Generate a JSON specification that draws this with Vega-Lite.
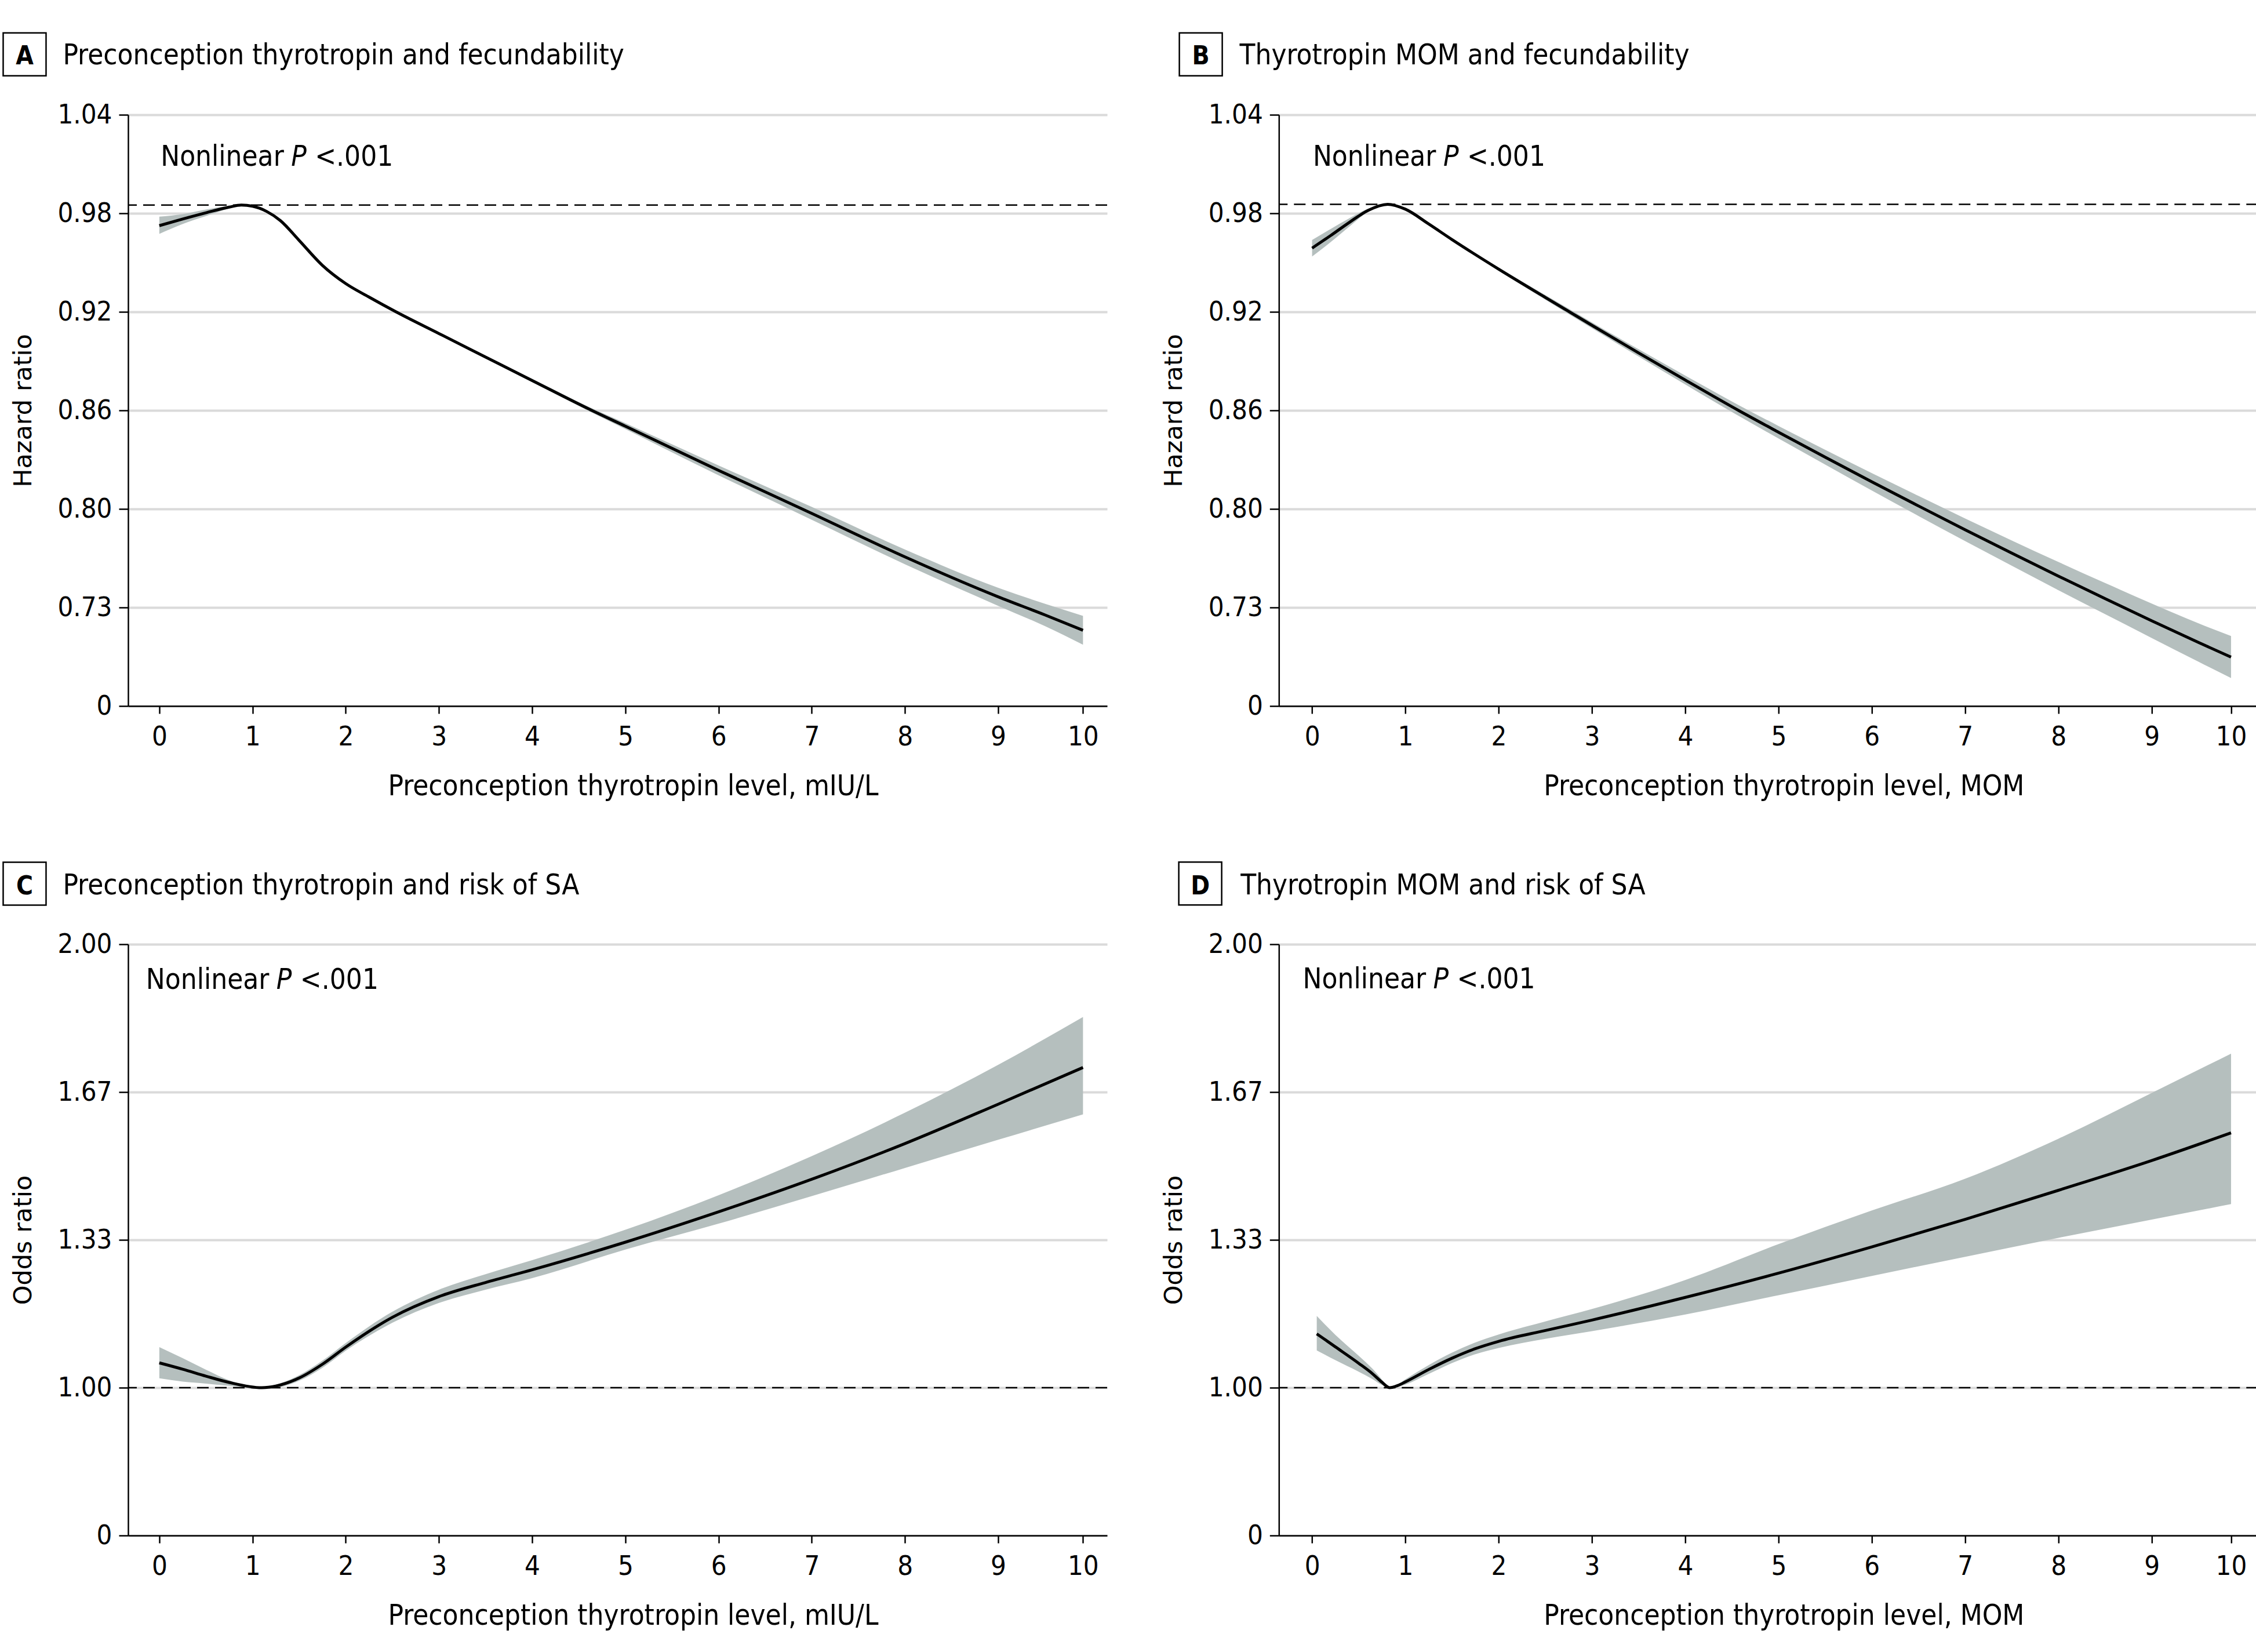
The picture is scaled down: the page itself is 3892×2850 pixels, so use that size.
{
 "$schema": "https://vega.github.io/schema/vega-lite/v6.json",
 "background": "white",
 "padding": {"left": 0, "top": 51, "right": 0, "bottom": 24},
 "bounds": "flush",
 "columns": 2,
 "spacing": {"row": 411, "column": 296.3},
 "datasets": {
  "A": [
   {"x": 0, "est": 0.9725, "lo": 0.9675, "hi": 0.9780},
   {"x": 0.25, "est": 0.9765, "lo": 0.9735, "hi": 0.9795},
   {"x": 0.5, "est": 0.9803, "lo": 0.9783, "hi": 0.9823},
   {"x": 0.75, "est": 0.9838, "lo": 0.9830, "hi": 0.9845},
   {"x": 0.88, "est": 0.9850, "lo": 0.9849, "hi": 0.9851},
   {"x": 1.0, "est": 0.9843, "lo": 0.9840, "hi": 0.9846},
   {"x": 1.15, "est": 0.9812, "lo": 0.9808, "hi": 0.9816},
   {"x": 1.3, "est": 0.9755, "lo": 0.9750, "hi": 0.9760},
   {"x": 1.5, "est": 0.9635, "lo": 0.9629, "hi": 0.9641},
   {"x": 1.75, "est": 0.9483, "lo": 0.9475, "hi": 0.9491},
   {"x": 2.0, "est": 0.9372, "lo": 0.9363, "hi": 0.9381},
   {"x": 2.25, "est": 0.9290, "lo": 0.9282, "hi": 0.9298},
   {"x": 2.54, "est": 0.9200, "lo": 0.9193, "hi": 0.9207},
   {"x": 3.0, "est": 0.9068, "lo": 0.9061, "hi": 0.9075},
   {"x": 3.5, "est": 0.8925, "lo": 0.8917, "hi": 0.8933},
   {"x": 4.0, "est": 0.8782, "lo": 0.8772, "hi": 0.8792},
   {"x": 4.64, "est": 0.8600, "lo": 0.8587, "hi": 0.8613},
   {"x": 5.0, "est": 0.8504, "lo": 0.8486, "hi": 0.8522},
   {"x": 6.0, "est": 0.8235, "lo": 0.8205, "hi": 0.8265},
   {"x": 7.0, "est": 0.7973, "lo": 0.7934, "hi": 0.8012},
   {"x": 8.0, "est": 0.7708, "lo": 0.7663, "hi": 0.7753},
   {"x": 9.0, "est": 0.7465, "lo": 0.7410, "hi": 0.7520},
   {"x": 9.5, "est": 0.7355, "lo": 0.7287, "hi": 0.7423},
   {"x": 9.91, "est": 0.7261, "lo": 0.7173, "hi": 0.7349}
  ],
  "B": [
   {"x": 0, "est": 0.9588, "lo": 0.9537, "hi": 0.9638},
   {"x": 0.2, "est": 0.9665, "lo": 0.9625, "hi": 0.9705},
   {"x": 0.4, "est": 0.9745, "lo": 0.9720, "hi": 0.9770},
   {"x": 0.6, "est": 0.9818, "lo": 0.9808, "hi": 0.9828},
   {"x": 0.81, "est": 0.9855, "lo": 0.9854, "hi": 0.9856},
   {"x": 1.0, "est": 0.9825, "lo": 0.9821, "hi": 0.9829},
   {"x": 1.25, "est": 0.9735, "lo": 0.9730, "hi": 0.9740},
   {"x": 1.5, "est": 0.9640, "lo": 0.9634, "hi": 0.9646},
   {"x": 2.0, "est": 0.9460, "lo": 0.9450, "hi": 0.9470},
   {"x": 2.5, "est": 0.9288, "lo": 0.9274, "hi": 0.9302},
   {"x": 3.0, "est": 0.9118, "lo": 0.9100, "hi": 0.9136},
   {"x": 3.5, "est": 0.8950, "lo": 0.8928, "hi": 0.8972},
   {"x": 4.0, "est": 0.8785, "lo": 0.8758, "hi": 0.8812},
   {"x": 4.57, "est": 0.8600, "lo": 0.8567, "hi": 0.8633},
   {"x": 5.0, "est": 0.8467, "lo": 0.8429, "hi": 0.8505},
   {"x": 5.5, "est": 0.8315, "lo": 0.8270, "hi": 0.8360},
   {"x": 6.0, "est": 0.8165, "lo": 0.8112, "hi": 0.8218},
   {"x": 6.5, "est": 0.8018, "lo": 0.7957, "hi": 0.8079},
   {"x": 7.0, "est": 0.7873, "lo": 0.7804, "hi": 0.7942},
   {"x": 7.5, "est": 0.7731, "lo": 0.7654, "hi": 0.7808},
   {"x": 8.0, "est": 0.7591, "lo": 0.7505, "hi": 0.7677},
   {"x": 8.5, "est": 0.7454, "lo": 0.7359, "hi": 0.7549},
   {"x": 9.0, "est": 0.7319, "lo": 0.7214, "hi": 0.7424},
   {"x": 9.5, "est": 0.7187, "lo": 0.7070, "hi": 0.7304},
   {"x": 9.85, "est": 0.7098, "lo": 0.6970, "hi": 0.7226}
  ],
  "C": [
   {"x": 0, "est": 1.0560, "lo": 1.0212, "hi": 1.0915},
   {"x": 0.25, "est": 1.0417, "lo": 1.0137, "hi": 1.0666},
   {"x": 0.5, "est": 1.0261, "lo": 1.0093, "hi": 1.0405},
   {"x": 0.75, "est": 1.0118, "lo": 1.0044, "hi": 1.0168},
   {"x": 1.1, "est": 1.0, "lo": 1.0, "hi": 1.0},
   {"x": 1.25, "est": 1.0037, "lo": 1.0006, "hi": 1.0068},
   {"x": 1.5, "est": 1.0218, "lo": 1.0156, "hi": 1.0280},
   {"x": 1.75, "est": 1.0529, "lo": 1.0448, "hi": 1.0610},
   {"x": 2.0, "est": 1.0915, "lo": 1.0834, "hi": 1.1008},
   {"x": 2.5, "est": 1.1587, "lo": 1.1463, "hi": 1.1712},
   {"x": 3.0, "est": 1.2054, "lo": 1.1911, "hi": 1.2210},
   {"x": 3.5, "est": 1.2372, "lo": 1.2210, "hi": 1.2558},
   {"x": 4.0, "est": 1.2658, "lo": 1.2471, "hi": 1.2876},
   {"x": 5.0, "est": 1.3281, "lo": 1.3113, "hi": 1.3561},
   {"x": 6.0, "est": 1.3965, "lo": 1.3698, "hi": 1.4341},
   {"x": 7.0, "est": 1.4700, "lo": 1.4320, "hi": 1.5221},
   {"x": 8.0, "est": 1.5505, "lo": 1.4955, "hi": 1.6201},
   {"x": 9.0, "est": 1.6393, "lo": 1.5590, "hi": 1.7281},
   {"x": 9.91, "est": 1.7221, "lo": 1.6163, "hi": 1.8360}
  ],
  "D": [
   {"x": 0.05, "est": 1.1214, "lo": 1.0840, "hi": 1.1619},
   {"x": 0.25, "est": 1.0920, "lo": 1.0620, "hi": 1.1190},
   {"x": 0.5, "est": 1.0550, "lo": 1.0360, "hi": 1.0720},
   {"x": 0.65, "est": 1.0310, "lo": 1.0190, "hi": 1.0420},
   {"x": 0.75, "est": 1.0120, "lo": 1.0060, "hi": 1.0180},
   {"x": 0.83, "est": 1.0, "lo": 1.0, "hi": 1.0},
   {"x": 0.92, "est": 1.0050, "lo": 1.0020, "hi": 1.0080},
   {"x": 1.0, "est": 1.0130, "lo": 1.0070, "hi": 1.0190},
   {"x": 1.25, "est": 1.0410, "lo": 1.0310, "hi": 1.0510},
   {"x": 1.5, "est": 1.0665, "lo": 1.0555, "hi": 1.0790},
   {"x": 1.75, "est": 1.0880, "lo": 1.0755, "hi": 1.1020},
   {"x": 2.0, "est": 1.1045, "lo": 1.0895, "hi": 1.1200},
   {"x": 2.5, "est": 1.1289, "lo": 1.1102, "hi": 1.1494},
   {"x": 3.0, "est": 1.1525, "lo": 1.1276, "hi": 1.1774},
   {"x": 4.0, "est": 1.2036, "lo": 1.1650, "hi": 1.2428},
   {"x": 5.0, "est": 1.2583, "lo": 1.2085, "hi": 1.3237},
   {"x": 6.0, "est": 1.3175, "lo": 1.2521, "hi": 1.3996},
   {"x": 7.0, "est": 1.3797, "lo": 1.2951, "hi": 1.4712},
   {"x": 8.0, "est": 1.4451, "lo": 1.3380, "hi": 1.5615},
   {"x": 9.0, "est": 1.5123, "lo": 1.3791, "hi": 1.6648},
   {"x": 9.85, "est": 1.5746, "lo": 1.4140, "hi": 1.7532}
  ]
 },
 "config": {
  "view": {"stroke": null},
  "axisX": {
   "domainColor": "black", "domainWidth": 2.5, "tickColor": "black", "tickWidth": 2.5, "tickSize": 13,
   "labelFont": "DejaVu Sans Condensed, Liberation Sans Narrow, sans-serif", "labelFontSize": 47, "labelColor": "black", "labelPadding": 17,
   "labelFlush": false, "labelOverlap": false, "labelBound": false, "grid": false,
   "titleFont": "DejaVu Sans Condensed, Liberation Sans Narrow, sans-serif", "titleFontSize": 49, "titleFontWeight": "normal", "titleColor": "black",
   "titleX": 871, "titleY": 153, "titleBaseline": "alphabetic", "titleAlign": "center"
  },
  "axisY": {
   "domainColor": "black", "domainWidth": 2.5, "tickColor": "black", "tickWidth": 2.5, "tickSize": 16,
   "labelFont": "DejaVu Sans Condensed, Liberation Sans Narrow, sans-serif", "labelFontSize": 47, "labelColor": "black", "labelPadding": 12,
   "labelFlush": false, "labelOverlap": false, "labelBound": false,
   "grid": true, "gridColor": "#dadada", "gridWidth": 4,
   "titleFont": "DejaVu Sans, sans-serif", "titleFontSize": 43, "titleFontWeight": "normal", "titleColor": "black",
   "titleX": -168, "titleY": 510, "titleAngle": 270, "titleBaseline": "alphabetic", "titleAlign": "center"
  },
  "text": {"font": "DejaVu Sans Condensed, Liberation Sans Narrow, sans-serif", "color": "black"}
 },
 "concat": [
    {
     "width": 1689, "height": 1020,
     "data": {"name": "A"},
     "layer": [
      {"mark": {"type": "area", "interpolate": "monotone", "color": "#b5bfbe", "opacity": 1},
       "encoding": {
        "x": {"field": "x", "type": "quantitative", "scale": {"domain": [-0.335, 10.169], "nice": false, "zero": false},
              "axis": {"values": [0,1,2,3,4,5,6,7,8,9,9.91], "labelExpr": "datum.value > 9.5 ? '10' : format(datum.value, 'd')", "title": "Preconception thyrotropin level, mIU/L"}},
        "y": {"field": "lo", "type": "quantitative", "scale": {"domain": [0.68, 1.04], "nice": false, "zero": false},
              "axis": {"values": [0.68,0.74,0.80,0.86,0.92,0.98,1.04], "labelExpr": "datum.value < 0.7 ? '0' : datum.value < 0.75 ? '0.73' : format(datum.value, '.2f')", "title": "Hazard ratio"}},
        "y2": {"field": "hi"}
       }},
      {"mark": {"type": "line", "interpolate": "monotone", "color": "black", "strokeWidth": 5},
       "encoding": {"x": {"field": "x", "type": "quantitative"}, "y": {"field": "est", "type": "quantitative"}}},
      {"data": {"values": [{}]}, "mark": {"type": "rule", "color": "black", "strokeWidth": 2.5, "strokeDash": [20, 11]},
       "encoding": {"y": {"datum": 0.985}}},
      {"data": {"values": [{}]}, "mark": {"type": "point", "shape": "square", "size": 5476, "filled": false, "stroke": "black", "strokeWidth": 2.5, "opacity": 1},
       "encoding": {"x": {"datum": -1.4453}, "y": {"datum": 1.0768}}},
      {"data": {"values": [{}]}, "mark": {"type": "text", "text": "A", "fontWeight": "bold", "fontSize": 44, "align": "center", "baseline": "alphabetic"},
       "encoding": {"x": {"datum": -1.4453}, "y": {"datum": 1.0706}}},
      {"data": {"values": [{}]}, "mark": {"type": "text", "text": "Preconception thyrotropin and fecundability", "fontSize": 49, "align": "left", "baseline": "alphabetic"},
       "encoding": {"x": {"datum": -1.0354}, "y": {"datum": 1.0706}}},
      {"data": {"values": [{}]}, "mark": {"type": "text", "text": "Nonlinear", "fontSize": 49, "align": "left", "baseline": "alphabetic"},
       "encoding": {"x": {"datum": 0.0143}, "y": {"datum": 1.0088}}},
      {"data": {"values": [{}]}, "mark": {"type": "text", "text": "P", "fontStyle": "italic", "fontSize": 49, "align": "left", "baseline": "alphabetic", "dx": 225},
       "encoding": {"x": {"datum": 0.0143}, "y": {"datum": 1.0088}}},
      {"data": {"values": [{}]}, "mark": {"type": "text", "text": "<.001", "fontSize": 49, "align": "left", "baseline": "alphabetic", "dx": 266},
       "encoding": {"x": {"datum": 0.0143}, "y": {"datum": 1.0088}}}
     ]
    },
    {
     "width": 1689, "height": 1020,
     "data": {"name": "B"},
     "layer": [
      {"mark": {"type": "area", "interpolate": "monotone", "color": "#b5bfbe", "opacity": 1},
       "encoding": {
        "x": {"field": "x", "type": "quantitative", "scale": {"domain": [-0.356, 10.138], "nice": false, "zero": false},
              "axis": {"values": [0,1,2,3,4,5,6,7,8,9,9.85], "labelExpr": "datum.value > 9.5 ? '10' : format(datum.value, 'd')", "title": "Preconception thyrotropin level, MOM"}},
        "y": {"field": "lo", "type": "quantitative", "scale": {"domain": [0.68, 1.04], "nice": false, "zero": false},
              "axis": {"values": [0.68,0.74,0.80,0.86,0.92,0.98,1.04], "labelExpr": "datum.value < 0.7 ? '0' : datum.value < 0.75 ? '0.73' : format(datum.value, '.2f')", "title": "Hazard ratio"}},
        "y2": {"field": "hi"}
       }},
      {"mark": {"type": "line", "interpolate": "monotone", "color": "black", "strokeWidth": 5},
       "encoding": {"x": {"field": "x", "type": "quantitative"}, "y": {"field": "est", "type": "quantitative"}}},
      {"data": {"values": [{}]}, "mark": {"type": "rule", "color": "black", "strokeWidth": 2.5, "strokeDash": [20, 11]},
       "encoding": {"y": {"datum": 0.9855}}},
      {"data": {"values": [{}]}, "mark": {"type": "point", "shape": "square", "size": 5476, "filled": false, "stroke": "black", "strokeWidth": 2.5, "opacity": 1},
       "encoding": {"x": {"datum": -1.1929}, "y": {"datum": 1.0768}}},
      {"data": {"values": [{}]}, "mark": {"type": "text", "text": "B", "fontWeight": "bold", "fontSize": 44, "align": "center", "baseline": "alphabetic"},
       "encoding": {"x": {"datum": -1.1929}, "y": {"datum": 1.0706}}},
      {"data": {"values": [{}]}, "mark": {"type": "text", "text": "Thyrotropin MOM and fecundability", "fontSize": 49, "align": "left", "baseline": "alphabetic"},
       "encoding": {"x": {"datum": -0.7766}, "y": {"datum": 1.0706}}},
      {"data": {"values": [{}]}, "mark": {"type": "text", "text": "Nonlinear", "fontSize": 49, "align": "left", "baseline": "alphabetic"},
       "encoding": {"x": {"datum": 0.008}, "y": {"datum": 1.0088}}},
      {"data": {"values": [{}]}, "mark": {"type": "text", "text": "P", "fontStyle": "italic", "fontSize": 49, "align": "left", "baseline": "alphabetic", "dx": 225},
       "encoding": {"x": {"datum": 0.008}, "y": {"datum": 1.0088}}},
      {"data": {"values": [{}]}, "mark": {"type": "text", "text": "<.001", "fontSize": 49, "align": "left", "baseline": "alphabetic", "dx": 266},
       "encoding": {"x": {"datum": 0.008}, "y": {"datum": 1.0088}}}
     ]
    },
    {
     "width": 1689, "height": 1020,
     "data": {"name": "C"},
     "layer": [
      {"mark": {"type": "area", "interpolate": "monotone", "color": "#b5bfbe", "opacity": 1},
       "encoding": {
        "x": {"field": "x", "type": "quantitative", "scale": {"domain": [-0.335, 10.169], "nice": false, "zero": false},
              "axis": {"values": [0,1,2,3,4,5,6,7,8,9,9.91], "labelExpr": "datum.value > 9.5 ? '10' : format(datum.value, 'd')", "title": "Preconception thyrotropin level, mIU/L"}},
        "y": {"field": "lo", "type": "quantitative", "scale": {"domain": [0.6666667, 2.0], "nice": false, "zero": false},
              "axis": {"values": [0.6666667, 1.0, 1.3333333, 1.6666667, 2.0], "labelExpr": "datum.value < 0.8 ? '0' : format(datum.value, '.2f')", "title": "Odds ratio"}},
        "y2": {"field": "hi"}
       }},
      {"mark": {"type": "line", "interpolate": "monotone", "color": "black", "strokeWidth": 5},
       "encoding": {"x": {"field": "x", "type": "quantitative"}, "y": {"field": "est", "type": "quantitative"}}},
      {"data": {"values": [{}]}, "mark": {"type": "rule", "color": "black", "strokeWidth": 2.5, "strokeDash": [20, 11]},
       "encoding": {"y": {"datum": 1.0}}},
      {"data": {"values": [{}]}, "mark": {"type": "point", "shape": "square", "size": 5476, "filled": false, "stroke": "black", "strokeWidth": 2.5, "opacity": 1},
       "encoding": {"x": {"datum": -1.4453}, "y": {"datum": 2.1367}}},
      {"data": {"values": [{}]}, "mark": {"type": "text", "text": "C", "fontWeight": "bold", "fontSize": 44, "align": "center", "baseline": "alphabetic"},
       "encoding": {"x": {"datum": -1.4453}, "y": {"datum": 2.1128}}},
      {"data": {"values": [{}]}, "mark": {"type": "text", "text": "Preconception thyrotropin and risk of SA", "fontSize": 49, "align": "left", "baseline": "alphabetic"},
       "encoding": {"x": {"datum": -1.0354}, "y": {"datum": 2.1128}}},
      {"data": {"values": [{}]}, "mark": {"type": "text", "text": "Nonlinear", "fontSize": 49, "align": "left", "baseline": "alphabetic"},
       "encoding": {"x": {"datum": -0.143}, "y": {"datum": 1.8996}}},
      {"data": {"values": [{}]}, "mark": {"type": "text", "text": "P", "fontStyle": "italic", "fontSize": 49, "align": "left", "baseline": "alphabetic", "dx": 225},
       "encoding": {"x": {"datum": -0.143}, "y": {"datum": 1.8996}}},
      {"data": {"values": [{}]}, "mark": {"type": "text", "text": "<.001", "fontSize": 49, "align": "left", "baseline": "alphabetic", "dx": 266},
       "encoding": {"x": {"datum": -0.143}, "y": {"datum": 1.8996}}}
     ]
    },
    {
     "width": 1689, "height": 1020,
     "data": {"name": "D"},
     "layer": [
      {"mark": {"type": "area", "interpolate": "monotone", "color": "#b5bfbe", "opacity": 1},
       "encoding": {
        "x": {"field": "x", "type": "quantitative", "scale": {"domain": [-0.356, 10.138], "nice": false, "zero": false},
              "axis": {"values": [0,1,2,3,4,5,6,7,8,9,9.85], "labelExpr": "datum.value > 9.5 ? '10' : format(datum.value, 'd')", "title": "Preconception thyrotropin level, MOM"}},
        "y": {"field": "lo", "type": "quantitative", "scale": {"domain": [0.6666667, 2.0], "nice": false, "zero": false},
              "axis": {"values": [0.6666667, 1.0, 1.3333333, 1.6666667, 2.0], "labelExpr": "datum.value < 0.8 ? '0' : format(datum.value, '.2f')", "title": "Odds ratio"}},
        "y2": {"field": "hi"}
       }},
      {"mark": {"type": "line", "interpolate": "monotone", "color": "black", "strokeWidth": 5},
       "encoding": {"x": {"field": "x", "type": "quantitative"}, "y": {"field": "est", "type": "quantitative"}}},
      {"data": {"values": [{}]}, "mark": {"type": "rule", "color": "black", "strokeWidth": 2.5, "strokeDash": [20, 11]},
       "encoding": {"y": {"datum": 1.0}}},
      {"data": {"values": [{}]}, "mark": {"type": "point", "shape": "square", "size": 5476, "filled": false, "stroke": "black", "strokeWidth": 2.5, "opacity": 1},
       "encoding": {"x": {"datum": -1.199}, "y": {"datum": 2.137}}},
      {"data": {"values": [{}]}, "mark": {"type": "text", "text": "D", "fontWeight": "bold", "fontSize": 44, "align": "center", "baseline": "alphabetic"},
       "encoding": {"x": {"datum": -1.199}, "y": {"datum": 2.1128}}},
      {"data": {"values": [{}]}, "mark": {"type": "text", "text": "Thyrotropin MOM and risk of SA", "fontSize": 49, "align": "left", "baseline": "alphabetic"},
       "encoding": {"x": {"datum": -0.767}, "y": {"datum": 2.1128}}},
      {"data": {"values": [{}]}, "mark": {"type": "text", "text": "Nonlinear", "fontSize": 49, "align": "left", "baseline": "alphabetic"},
       "encoding": {"x": {"datum": -0.0994}, "y": {"datum": 1.9006}}},
      {"data": {"values": [{}]}, "mark": {"type": "text", "text": "P", "fontStyle": "italic", "fontSize": 49, "align": "left", "baseline": "alphabetic", "dx": 225},
       "encoding": {"x": {"datum": -0.0994}, "y": {"datum": 1.9006}}},
      {"data": {"values": [{}]}, "mark": {"type": "text", "text": "<.001", "fontSize": 49, "align": "left", "baseline": "alphabetic", "dx": 266},
       "encoding": {"x": {"datum": -0.0994}, "y": {"datum": 1.9006}}}
     ]
    }
 ]
}
